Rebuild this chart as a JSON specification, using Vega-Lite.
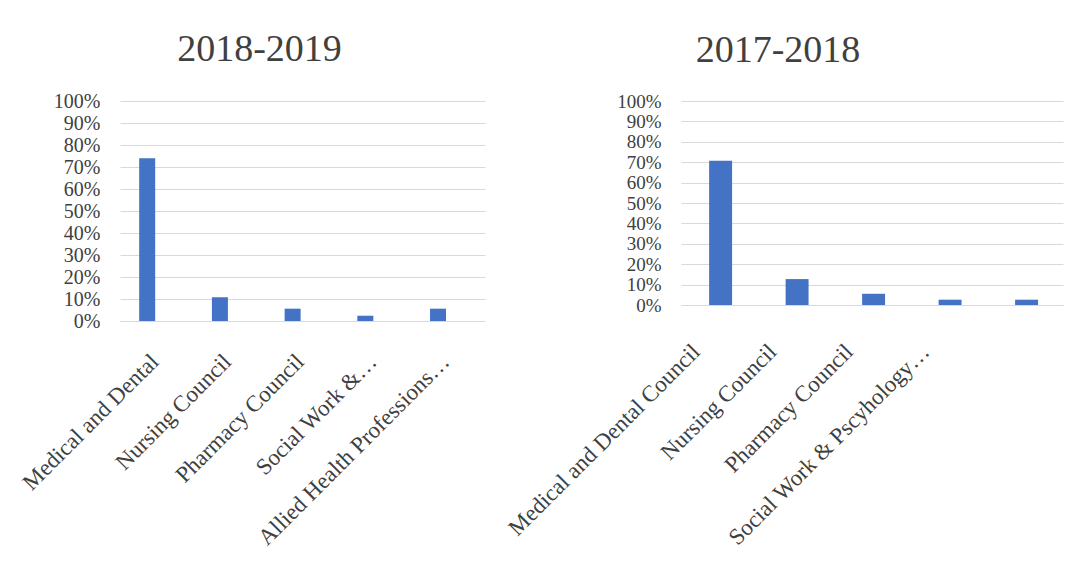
{
  "$schema": "https://vega.github.io/schema/vega-lite/v6.json",
  "background": "white",
  "padding": {"left": 18, "top": 31, "right": 10, "bottom": 5},
  "spacing": 19,
  "datasets": {
    "y1819": [
      {"council": "Medical and Dental", "share": 0.74},
      {"council": "Nursing Council", "share": 0.108},
      {"council": "Pharmacy Council", "share": 0.056},
      {"council": "Social Work &…", "share": 0.024},
      {"council": "Allied Health Professions…", "share": 0.056}
    ],
    "y1718": [
      {"council": "Medical and Dental Council", "share": 0.707},
      {"council": "Nursing Council", "share": 0.127},
      {"council": "Pharmacy Council", "share": 0.055},
      {"council": "Social Work & Pscyhology…", "share": 0.026},
      {"council": "Allied Health Professions Council", "share": 0.026}
    ]
  },
  "config": {
    "view": {"stroke": null},
    "font": "Liberation Serif",
    "title": {"font": "Liberation Serif", "fontSize": 38, "fontWeight": "normal", "color": "#404040", "offset": 22, "anchor": "middle"},
    "axis": {"labelFont": "Liberation Serif", "labelColor": "#404040", "title": null, "ticks": false, "gridColor": "#d9d9d9", "gridWidth": 1.2, "domainColor": "#d9d9d9", "domainWidth": 1.2}
  },
  "hconcat": [
    {
      "data": {"name": "y1819"},
      "title": {"text": "2018-2019", "dx": -43},
      "width": 365,
      "height": 220,
      "mark": {"type": "bar", "color": "#4472C4"},
      "encoding": {
        "x": {
          "field": "council", "type": "nominal", "sort": null,
          "scale": {"paddingInner": 0.78, "paddingOuter": 0.4, "align": 0.33},
          "axis": {"labelAngle": -45, "labelAlign": "right", "labelBaseline": "top", "labelFontSize": 23, "labelPadding": 29, "labelOffset": 0, "labelLimit": 0, "labelOverlap": false, "grid": false}
        },
        "y": {
          "field": "share", "type": "quantitative",
          "scale": {"domain": [0, 1]},
          "axis": {"values": [0, 0.1, 0.2, 0.3, 0.4, 0.5, 0.6, 0.7, 0.8, 0.9, 1], "format": ".0%", "labelFontSize": 20, "labelPadding": 20, "domain": false, "labelOverlap": false}
        }
      }
    },
    {
      "data": {"name": "y1718"},
      "title": {"text": "2017-2018", "dx": -94},
      "width": 382,
      "height": 204,
      "mark": {"type": "bar", "color": "#4472C4"},
      "encoding": {
        "x": {
          "field": "council", "type": "nominal", "sort": null,
          "scale": {"paddingInner": 0.7, "paddingOuter": 0.347, "align": 0.53},
          "axis": {"labelAngle": -45, "labelAlign": "right", "labelBaseline": "top", "labelFontSize": 23, "labelPadding": 35, "labelOffset": -32, "labelLimit": 0, "labelOverlap": false, "grid": false,
            "labelExpr": "datum.value === 'Allied Health Professions Council' ? '' : datum.label"}
        },
        "y": {
          "field": "share", "type": "quantitative",
          "scale": {"domain": [0, 1]},
          "axis": {"values": [0, 0.1, 0.2, 0.3, 0.4, 0.5, 0.6, 0.7, 0.8, 0.9, 1], "format": ".0%", "labelFontSize": 19, "labelPadding": 20, "domain": false, "labelOverlap": false}
        }
      }
    }
  ]
}
